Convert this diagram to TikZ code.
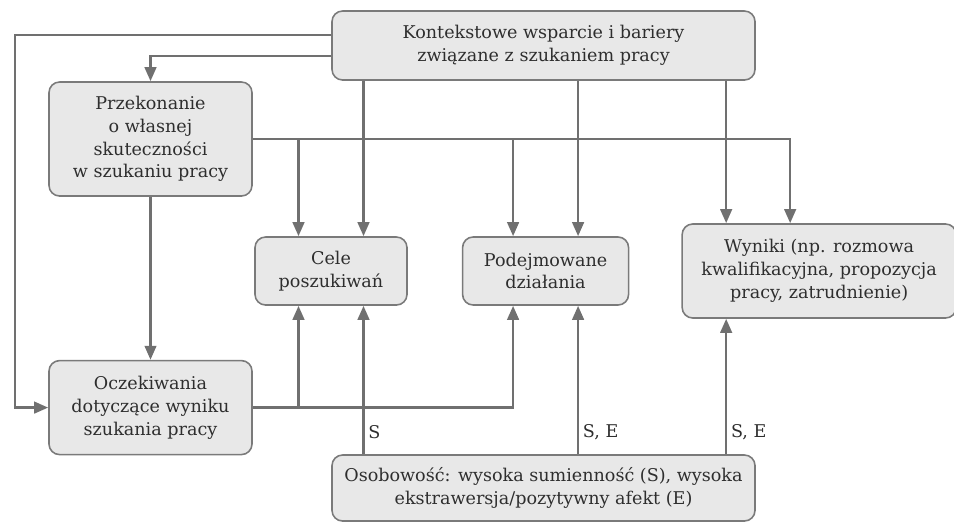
\documentclass[tikz,border=0pt]{standalone}
\usepackage{fontspec}
\setmainfont{DejaVu Serif}
\usetikzlibrary{positioning,arrows.meta,calc}
\definecolor{linegray}{HTML}{707070}
\definecolor{boxline}{HTML}{7A7A7A}
\definecolor{txtgray}{HTML}{2E2E2E}

\begin{document}
\begin{tikzpicture}[
  every node/.style={font=\fontsize{10}{13}\selectfont, text=txtgray},
  box/.style={draw=boxline, line width=0.9pt, fill=gray!18,
              rounded corners=6pt, align=center, inner sep=2pt},
  arr/.style={-{Triangle[length=2.8mm,width=2.3mm]}, line width=1.5pt,
              draw=linegray},
  lab/.style={anchor=west, inner sep=2pt}
]
\useasboundingbox (0,0) rectangle (19.08,-10.44);

%% --- Top: context ---------------------------------------------
\node[box, minimum width=8.46cm, minimum height=1.38cm] (ctx) at (10.87,-0.91)
     {Kontekstowe wsparcie i bariery\\związane z szukaniem pracy};

%% --- Left column -----------------------------------------------
\node[box, minimum width=4.06cm, minimum height=2.28cm] (self) at (3.01,-2.78)
     {Przekonanie\\o własnej\\skuteczności\\w szukaniu pracy};

\node[box, minimum width=4.06cm, minimum height=1.88cm, below=3.26cm of self] (expect)
     {Oczekiwania\\dotyczące wyniku\\szukania pracy};

%% --- Middle row ------------------------------------------------
\node[box, minimum width=3.04cm, minimum height=1.36cm] (goals) at (6.62,-5.42)
     {Cele\\poszukiwań};

\node[box, minimum width=3.32cm, minimum height=1.36cm, right=1.08cm of goals] (act)
     {Podejmowane\\działania};

\node[box, minimum width=5.48cm, minimum height=1.88cm, right=1.04cm of act] (out)
     {Wyniki (np. rozmowa\\kwalifikacyjna, propozycja\\pracy, zatrudnienie)};

%% --- Bottom: personality ---------------------------------------
\node[box, minimum width=8.46cm, minimum height=1.32cm] (pers) at (10.87,-9.76)
     {Osobowość: wysoka sumienność (S), wysoka\\ekstrawersja/pozytywny afekt (E)};

%% --- Attach points ---------------------------------------------
\coordinate (g1) at ([xshift=-6.5mm]goals.north);
\coordinate (g2) at ([xshift=6.5mm]goals.north);
\coordinate (a1) at ([xshift=-6.5mm]act.north);
\coordinate (a2) at ([xshift=6.5mm]act.north);
\coordinate (o1) at ([xshift=-18.6mm]out.north);
\coordinate (o2) at ([xshift=-5.8mm]out.north);
\coordinate (g1b) at ([xshift=-6.5mm]goals.south);
\coordinate (g2b) at ([xshift=6.5mm]goals.south);
\coordinate (a1b) at ([xshift=-6.5mm]act.south);
\coordinate (a2b) at ([xshift=6.5mm]act.south);
\coordinate (o1b) at ([xshift=-18.6mm]out.south);
\coordinate (bend) at (0.30,0);

%% --- From context ----------------------------------------------
\draw[arr] ([yshift=2.1mm]ctx.west) -| (bend |- expect.west) -- (expect.west);
\draw[arr] ([yshift=-2.1mm]ctx.west) -| (self.north);
\draw[arr] (ctx.south -| g2) -- (g2);
\draw[arr] (ctx.south -| a2) -- (a2);
\draw[arr] (ctx.south -| o1) -- (o1);

%% --- From self-efficacy ----------------------------------------
\draw[arr] (self.east) -| (o2);
\draw[arr] (self.east -| g1) -- (g1);
\draw[arr] (self.east -| a1) -- (a1);
\draw[arr] (self.south) -- (expect.north);

%% --- From expectations -----------------------------------------
\draw[arr] (expect.east) -| (a1b);
\draw[arr] (expect.east -| g1b) -- (g1b);

%% --- From personality ------------------------------------------
\draw[arr] (pers.north -| g2b) -- node[lab, pos=.15] {S} (g2b);
\draw[arr] (pers.north -| a2b) -- node[lab, pos=.15] {S, E} (a2b);
\draw[arr] (pers.north -| o1b) -- node[lab, pos=.16] {S, E} (o1b);

\end{tikzpicture}
\end{document}
